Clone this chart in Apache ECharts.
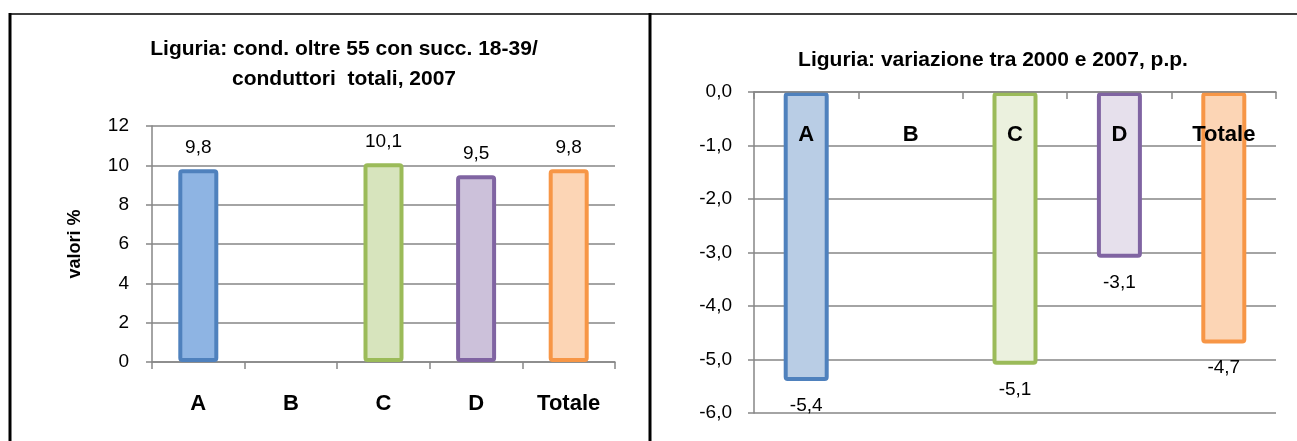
<!DOCTYPE html>
<html>
<head>
<meta charset="utf-8">
<script src="https://cdn.jsdelivr.net/npm/echarts@6/dist/echarts.min.js"></script>
<style>
html,body{margin:0;padding:0;background:#fff;}
#c{width:1297px;height:441px;}
</style>
</head>
<body>
<div id="c"></div>
<script>
const categories = ['A', 'B', 'C', 'D', 'Totale'];
const shareValues = [9.8, null, 10.1, 9.5, 9.8];
const changeValues = [-5.4, null, -5.1, -3.1, -4.7];
const leftTitle = 'Liguria: cond. oltre 55 con succ. 18-39/\nconduttori  totali, 2007';
const rightTitle = 'Liguria: variazione tra 2000 e 2007, p.p.';
const leftAxisName = 'valori %';

const borderColors = ['#4F81BD', '#4F81BD', '#9BBB59', '#8064A2', '#F79646'];
const leftFills = ['#8EB4E3', '#8EB4E3', '#D7E4BD', '#CCC1DA', '#FCD5B5'];
const rightFills = ['#B9CDE5', '#B9CDE5', '#EBF1DE', '#E6E0EC', '#FCD5B5'];

const FONT = '"Liberation Sans", Arial, sans-serif';
const GRID_COLOR = '#868686';
const fmt = v => v.toFixed(1).replace('.', ',');

function barData(vals, fills) {
  return vals.map((v, i) => ({
    value: v,
    itemStyle: { color: fills[i], borderColor: borderColors[i] }
  }));
}

const chart = echarts.init(document.getElementById('c'), null, { renderer: 'canvas' });
chart.setOption({
  animation: false,
  backgroundColor: '#fff',
  textStyle: { fontFamily: FONT },
  title: [
    { text: leftTitle, left: 339, top: 29, textAlign: 'center',
      textStyle: { fontFamily: FONT, fontWeight: 'bold', fontSize: 21, color: '#000', lineHeight: 30 } },
    { text: rightTitle, left: 988, top: 45, textAlign: 'center',
      textStyle: { fontFamily: FONT, fontWeight: 'bold', fontSize: 21, color: '#000' } }
  ],
  grid: [
    { left: 152, right: 682, top: 126, bottom: 79 },
    { left: 754, right: 21, top: 92, bottom: 28 }
  ],
  xAxis: [
    { type: 'category', gridIndex: 0, data: categories, boundaryGap: true,
      axisLine: { lineStyle: { color: GRID_COLOR, width: 1.5 } },
      axisTick: { show: true, length: 7, lineStyle: { color: GRID_COLOR, width: 1.5 } },
      axisLabel: { margin: 31, fontFamily: FONT, fontWeight: 'bold', fontSize: 22, color: '#000' } },
    { type: 'category', gridIndex: 1, data: categories, boundaryGap: true, position: 'top', z: 10,
      axisLine: { onZero: false, lineStyle: { color: GRID_COLOR, width: 1.5 } },
      axisTick: { show: true, inside: true, length: 7, lineStyle: { color: GRID_COLOR, width: 1.5 } },
      axisLabel: { inside: true, margin: 32, fontFamily: FONT, fontWeight: 'bold', fontSize: 22, color: '#000' } }
  ],
  yAxis: [
    { type: 'value', gridIndex: 0, min: 0, max: 12, interval: 2,
      name: leftAxisName, nameLocation: 'middle', nameGap: 68, nameRotate: 90,
      nameTextStyle: { fontFamily: FONT, fontWeight: 'bold', fontSize: 18, color: '#000' },
      axisLine: { show: true, lineStyle: { color: GRID_COLOR, width: 1.5 } },
      axisTick: { show: true, length: 6, lineStyle: { color: GRID_COLOR, width: 1.5 } },
      splitLine: { show: true, lineStyle: { color: GRID_COLOR, width: 1.5 } },
      axisLabel: { margin: 23, fontFamily: FONT, fontSize: 19, color: '#000' } },
    { type: 'value', gridIndex: 1, min: -6, max: 0, interval: 1,
      axisLine: { show: true, onZero: false, lineStyle: { color: GRID_COLOR, width: 1.5 } },
      axisTick: { show: true, length: 6, lineStyle: { color: GRID_COLOR, width: 1.5 } },
      splitLine: { show: true, lineStyle: { color: GRID_COLOR, width: 1.5 } },
      axisLabel: { margin: 22, fontFamily: FONT, fontSize: 19, color: '#000', formatter: fmt } }
  ],
  series: [
    { type: 'bar', xAxisIndex: 0, yAxisIndex: 0, barWidth: 40,
      data: barData(shareValues, leftFills),
      itemStyle: { borderWidth: 4, borderRadius: 2 },
      label: { show: true, position: 'top', distance: 12, fontFamily: FONT, fontSize: 19, color: '#000',
               formatter: p => fmt(p.value) } },
    { type: 'bar', xAxisIndex: 1, yAxisIndex: 1, barWidth: 45,
      data: barData(changeValues, rightFills),
      itemStyle: { borderWidth: 4, borderRadius: 2 },
      label: { show: true, position: 'bottom', distance: 15, fontFamily: FONT, fontSize: 19, color: '#000',
               formatter: p => fmt(p.value) } }
  ],
  graphic: [
    { type: 'line', shape: { x1: 9, y1: 14, x2: 1297, y2: 14 }, style: { stroke: '#000', lineWidth: 1.5 } },
    { type: 'line', shape: { x1: 10, y1: 13, x2: 10, y2: 441 }, style: { stroke: '#000', lineWidth: 3 } },
    { type: 'line', shape: { x1: 650, y1: 13, x2: 650, y2: 441 }, style: { stroke: '#000', lineWidth: 3 } }
  ]
});
</script>
</body>
</html>
